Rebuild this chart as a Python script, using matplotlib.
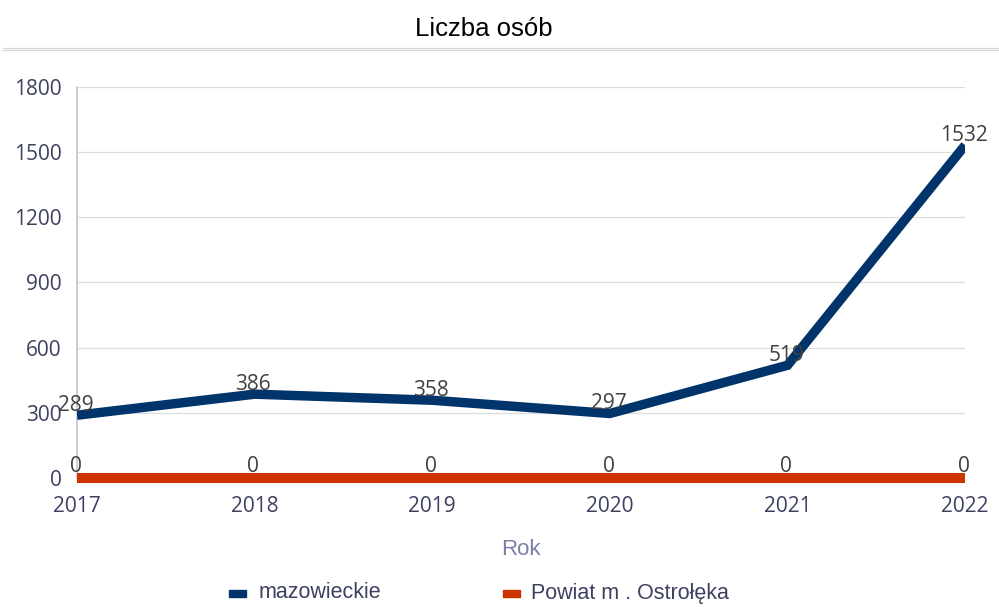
import matplotlib
matplotlib.use("Agg")
import matplotlib.pyplot as plt
from matplotlib.lines import Line2D
from matplotlib.patches import Rectangle

plt.rcParams["font.family"] = ["Open Sans", "DejaVu Sans"]

years = ["2017", "2018", "2019", "2020", "2021", "2022"]
mazowieckie = [289, 386, 358, 297, 519, 1532]
ostroleka = [0, 0, 0, 0, 0, 0]
yticks = [0, 300, 600, 900, 1200, 1500, 1800]
series_names = ["mazowieckie", "Powiat m . Ostrołęka"]

NAVY = "#00346a"
RED = "#cc3300"
TICK = "#3d4060"
LBL = "#404040"

fig = plt.figure(figsize=(9.99, 6.07), dpi=100)
ax = fig.add_axes([0.0771, 0.2125, 0.889, 0.6442])

x = list(range(len(years)))
ax.plot(x, mazowieckie, color=NAVY, lw=6.8, solid_joinstyle="miter",
        solid_capstyle="butt", zorder=3)
ax.plot(x, ostroleka, color=RED, lw=7.2, solid_capstyle="butt", zorder=3,
        clip_on=False)

for xi, v in zip(x, mazowieckie):
    ax.annotate(str(v), (xi, v), xytext=(-1, 3), textcoords="offset points",
                ha="center", va="baseline", fontsize=15, color=LBL,
                zorder=4)
for xi, v in zip(x, ostroleka):
    ax.annotate(str(v), (xi, v), xytext=(-1, 4), textcoords="offset points",
                ha="center", va="baseline", fontsize=15, color=LBL,
                zorder=4)

ax.set_xlim(0, len(years) - 1)
ax.set_ylim(0, 1800)
ax.set_yticks(yticks)
ax.set_xticks(x)
ax.set_xticklabels(years)
ax.tick_params(axis="both", length=0, labelsize=15, colors=TICK)
ax.tick_params(axis="x", pad=13)
ax.tick_params(axis="y", pad=11)
ax.grid(axis="y", color="#dcdce0", lw=0.9)
ax.set_axisbelow(True)
for s in ("top", "right", "bottom"):
    ax.spines[s].set_visible(False)
ax.spines["left"].set_color("#c0c4d4")
ax.spines["left"].set_linewidth(1.2)

ax.set_xlabel("Rok", fontsize=16, color="#7b7fa8", labelpad=16,
              family=["Liberation Sans", "DejaVu Sans"])

fig.text(0.484, 0.952, "Liczba osób", ha="center", va="center",
         fontsize=18.5, color="black", family=["Liberation Sans", "DejaVu Sans"])
# double separator under the title
for yy in (0.9217, 0.9176):
    fig.add_artist(Line2D([0.003, 1.0], [yy, yy], color="#d8d8dc", lw=0.9))

# legend entries: colour swatch followed by the series name
legend_y = 1 - 593 / 607
for (sx, tx), name, col in zip([(229, 259), (503, 531)], series_names,
                               [NAVY, RED]):
    fig.add_artist(Rectangle((sx / 999, legend_y - 3.5 / 607), 17 / 999,
                             7 / 607, color=col, transform=fig.transFigure))
    fig.text(tx / 999, legend_y, name, ha="left", va="center", fontsize=15.5,
             color=TICK, family=["Liberation Sans", "DejaVu Sans"])

fig.savefig("out.png", dpi=100)
